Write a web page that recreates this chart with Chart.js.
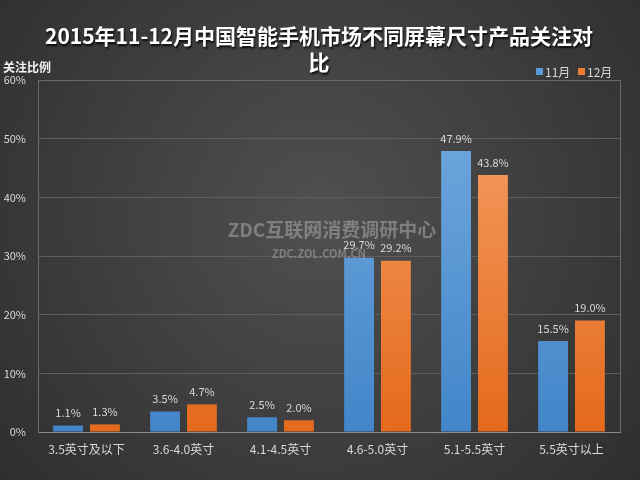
<!DOCTYPE html>
<html><head><meta charset="utf-8">
<script src="https://cdn.jsdelivr.net/npm/chart.js@4/dist/chart.umd.min.js"></script>
<style>html,body{margin:0;padding:0;background:#3a3a3a;}#wrap{width:640px;height:480px;}</style>
</head><body><div id="wrap"><canvas id="c" width="640" height="480"></canvas></div>
<script>
const categories = ["3.5英寸及以下","3.6-4.0英寸","4.1-4.5英寸","4.6-5.0英寸","5.1-5.5英寸","5.5英寸以上"];
const nov = [1.1, 3.5, 2.5, 29.7, 47.9, 15.5];
const dec = [1.3, 4.7, 2.0, 29.2, 43.8, 19.0];
const seriesNames = ["11月","12月"];
const yTicks = [0,10,20,30,40,50,60];
const titleLines = ["2015年11-12月中国智能手机市场不同屏幕尺寸产品关注对","比"];
const yLabel = "关注比例";
const FONT = '"Noto Sans CJK SC","Noto Sans",sans-serif';

function grad(ctx, c1, c2){
  const a = ctx.chart.chartArea;
  if(!a) return c2;
  const g = ctx.chart.ctx.createLinearGradient(0, a.top, 0, a.bottom);
  g.addColorStop(0, c1); g.addColorStop(1, c2);
  return g;
}

const bgPlugin = {
  id:'bg',
  beforeDraw(chart){
    const c = chart.ctx, w = chart.width, h = chart.height;
    c.save();
    const g = c.createRadialGradient(w*0.5, h*0.45, 10, w*0.5, h*0.45, 430);
    g.addColorStop(0, '#4f4f4f'); g.addColorStop(1, '#2d2d2d');
    c.fillStyle = g; c.fillRect(0,0,w,h);
    c.restore();
  },
  afterDraw(chart){
    const c = chart.ctx, a = chart.chartArea;
    c.save();
    c.strokeStyle = '#6a6a6a'; c.lineWidth = 1;
    c.beginPath(); c.moveTo(a.left, a.top+0.5); c.lineTo(a.right+0.5, a.top+0.5); c.lineTo(a.right+0.5, a.bottom); c.stroke();
    // title
    c.fillStyle = '#ffffff'; c.textAlign = 'center'; c.textBaseline = 'middle';
    c.shadowColor = 'rgba(0,0,0,0.8)'; c.shadowOffsetX = 1; c.shadowOffsetY = 2; c.shadowBlur = 2;
    c.font = 'bold 21px ' + FONT;
    c.fillText(titleLines[0], 319, 36);
    c.fillText(titleLines[1], 319, 62);
    c.shadowColor = 'transparent';
    // y label
    c.textAlign = 'left'; c.font = 'bold 12px ' + FONT; c.fillStyle = '#f2f2f2';
    c.fillText(yLabel, 3, 67);
    // legend
    c.font = '12px ' + FONT;
    const lx = [536, 578];
    const lc = ['#5b9bd5', '#ed7d31'];
    for(let i=0;i<2;i++){
      c.fillStyle = lc[i]; c.fillRect(lx[i], 68, 7, 7);
      c.fillStyle = '#d9d9d9'; c.fillText(seriesNames[i], lx[i]+9, 72);
    }
    // data labels
    c.font = '11px ' + FONT; c.fillStyle = '#d9d9d9'; c.textAlign = 'center'; c.textBaseline = 'bottom';
    chart.data.datasets.forEach((ds, di) => {
      chart.getDatasetMeta(di).data.forEach((bar, i) => {
        c.fillText(ds.data[i].toFixed(1) + '%', bar.x, bar.y - 7);
      });
    });
    // watermark
    c.textBaseline = 'middle';
    c.font = 'bold 19px ' + FONT; c.fillStyle = 'rgba(190,190,190,0.45)';
    c.fillText('ZDC互联网消费调研中心', 332, 230);
    c.font = 'bold 11px ' + FONT;
    c.fillText('ZDC.ZOL.COM.CN', 319, 254);
    c.restore();
  }
};

new Chart(document.getElementById('c'), {
  type:'bar',
  data:{
    labels: categories,
    datasets:[
      {label:seriesNames[0], data:nov, backgroundColor:(ctx)=>grad(ctx,'#75abe0','#4286c9'), borderWidth:0},
      {label:seriesNames[1], data:dec, backgroundColor:(ctx)=>grad(ctx,'#f7a46b','#e4691c'), borderWidth:0}
    ]
  },
  options:{
    responsive:false, animation:false,
    layout:{padding:{top:80, right:20, left:0, bottom:0}},
    categoryPercentage:0.76, barPercentage:0.81,
    plugins:{legend:{display:false}, title:{display:false}, tooltip:{enabled:false}},
    scales:{
      x:{
        grid:{display:false, drawTicks:false},
        border:{color:'#8c8c8c', width:1},
        ticks:{color:'#d9d9d9', font:{family:FONT, size:12}, padding:10, maxRotation:0, autoSkip:false},
        afterFit(s){ s.height = 48; }
      },
      y:{
        min:0, max:60,
        afterBuildTicks(s){ s.ticks = yTicks.map(v=>({value:v})); },
        grid:{color:'#5e5e5e', drawTicks:false},
        border:{color:'#6a6a6a', width:1},
        ticks:{color:'#d9d9d9', font:{family:FONT, size:11}, padding:12, callback:(v)=>v+'%'},
        afterFit(s){ s.width = 38; }
      }
    }
  },
  plugins:[bgPlugin]
});
</script></body></html>
